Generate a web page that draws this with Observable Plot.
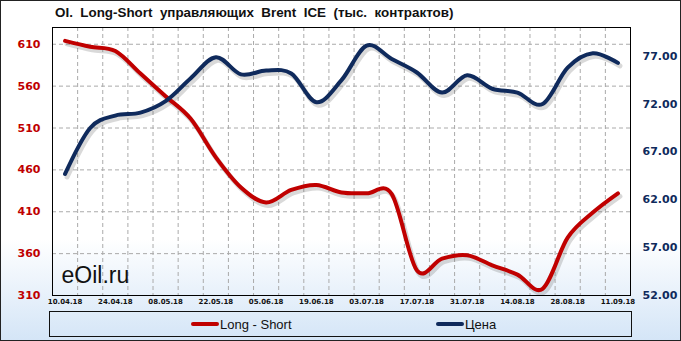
<!DOCTYPE html>
<html><head><meta charset="utf-8">
<script src="https://cdn.jsdelivr.net/npm/d3@7"></script>
<script src="https://cdn.jsdelivr.net/npm/@observablehq/plot@0.6"></script>
<style>
body{margin:0;background:#fff}
#chart{position:relative;width:681px;height:341px;overflow:hidden;background:linear-gradient(to bottom,#fff 0%,#fff 70%,#d4e5f7 100%)}
#title{position:absolute;left:55px;top:5px;font:bold 13.4px "Liberation Sans",sans-serif;white-space:pre;color:#111}
#plot{position:absolute;left:0;top:0}
#legend{position:absolute;left:49px;top:311px;width:583px;height:26px;box-sizing:border-box;border:1px solid #111}
.item{position:absolute;top:0;height:24px;display:flex;align-items:center;font:13px "Liberation Sans",sans-serif;color:#111;white-space:pre}
.sw{display:inline-block;width:28px;height:4px;border-radius:2px;margin-right:1px}
#border{position:absolute;left:0;top:0;width:681px;height:341px;box-sizing:border-box;border:1px solid #222;pointer-events:none}
</style></head>
<body>
<div id="chart">
  <div id="plot"></div>
  <div id="title">OI.  Long-Short  управляющих  Brent  ICE  (тыс.  контрактов)</div>
  <div id="legend">
    <div class="item" style="left:141px"><span class="sw" style="background:#c00000"></span>Long - Short</div>
    <div class="item" style="left:386px"><span class="sw" style="background:#0f2a5c"></span>Цена</div>
  </div>
  <div id="border"></div>
</div>
<script>
const dates = ["10.04.18","17.04.18","24.04.18","01.05.18","08.05.18","15.05.18","22.05.18","29.05.18","05.06.18","12.06.18","19.06.18","26.06.18","03.07.18","10.07.18","17.07.18","24.07.18","31.07.18","07.08.18","14.08.18","21.08.18","28.08.18","04.09.18","11.09.18"];
const longShort = [614, 607, 602, 575, 548, 521, 475, 439, 421, 436, 442, 433, 432, 431, 340, 354, 358, 346, 335, 318, 379, 409, 432];
const price = [64.7, 69.5, 70.8, 71.1, 72.3, 74.7, 76.9, 75.1, 75.5, 75.2, 72.2, 74.5, 78.1, 76.7, 75.3, 73.2, 75.0, 73.6, 73.2, 72.0, 75.8, 77.3, 76.3];
const leftTicks = [310, 360, 410, 460, 510, 560, 610];
const rightTicks = [52, 57, 62, 67, 72, 77];
const leftDomain = [310, 630];
const rightDomain = [52, 80];

const RED = "#c00000", BLUE = "#0f2a5c";
const toL = p => leftDomain[0] + (p - rightDomain[0]) * (leftDomain[1] - leftDomain[0]) / (rightDomain[1] - rightDomain[0]);
const fromL = v => rightDomain[0] + (v - leftDomain[0]) * (rightDomain[1] - rightDomain[0]) / (leftDomain[1] - leftDomain[0]);
const rows = dates.map((d, i) => ({i, date: d, ls: longShort[i], pr: toL(price[i])}));
const curve = d3.curveCardinal.tension(0);
const shadow = {stroke: "#666", strokeOpacity: 0.25, strokeWidth: 5, dx: 2, dy: 3, curve, strokeLinecap: "round"};

const chart = Plot.plot({
  width: 681, height: 341,
  marginTop: 27, marginBottom: 46, marginLeft: 52, marginRight: 51,
  style: {background: "transparent", fontFamily: "DejaVu Sans, sans-serif", overflow: "visible"},
  x: {domain: [-0.5, dates.length - 0.5], label: null},
  y: {domain: leftDomain, label: null},
  marks: [
    Plot.gridY(leftTicks.slice(1), {stroke: "#aaa", strokeOpacity: 1, strokeDasharray: "4,3"}),
    Plot.gridX(d3.range(0.5, dates.length - 1, 1), {stroke: "#aaa", strokeOpacity: 1, strokeDasharray: "4,3"}),
    Plot.text(["eOil.ru"], {frameAnchor: "bottom-left", dx: 9, dy: -13, fontSize: 23, fontFamily: "Liberation Sans, sans-serif", textAnchor: "start", lineAnchor: "bottom", fill: "#111"}),
    Plot.line(rows, {x: "i", y: "ls", ...shadow}),
    Plot.line(rows, {x: "i", y: "pr", ...shadow}),
    Plot.line(rows, {x: "i", y: "ls", stroke: RED, strokeWidth: 4, curve, strokeLinecap: "round"}),
    Plot.line(rows, {x: "i", y: "pr", stroke: BLUE, strokeWidth: 4, curve, strokeLinecap: "round"}),
    Plot.frame({stroke: "#000"}),
    Plot.axisY(leftTicks, {anchor: "left", tickSize: 0, tickPadding: 12, fontSize: 11, fontWeight: "bold", color: RED, label: null}),
    Plot.axisY(rightTicks.map(toL), {anchor: "right", tickSize: 0, tickPadding: 12, fontSize: 11, fontWeight: "bold", color: BLUE, label: null, tickFormat: v => fromL(v).toFixed(2)}),
    Plot.axisX(d3.range(0, dates.length, 2), {anchor: "bottom", tickSize: 0, tickPadding: 4, fontSize: 7, fontWeight: "bold", color: "#111", label: null, tickFormat: i => dates[i]})
  ]
});
document.getElementById("plot").appendChild(chart);
</script>
</body></html>
